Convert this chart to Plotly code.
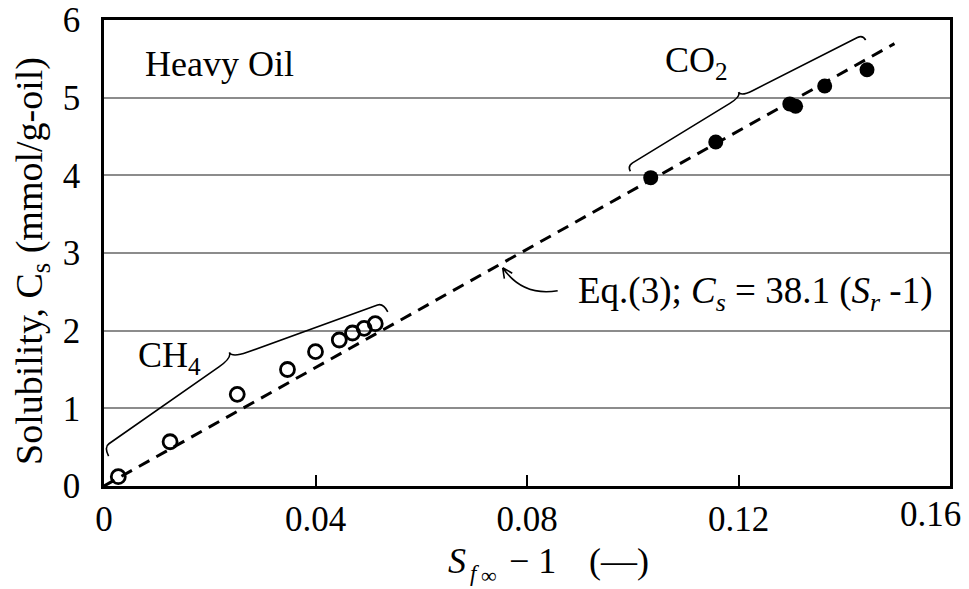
import math
import plotly.graph_objects as go

# ---------------- data ----------------
ch4_x = [0.0027, 0.0125, 0.0252, 0.0347, 0.0400, 0.0445, 0.0470, 0.0492, 0.0513]
ch4_y = [0.12, 0.57, 1.18, 1.50, 1.73, 1.88, 1.97, 2.03, 2.09]
co2_x = [0.1034, 0.1157, 0.1297, 0.1308, 0.1363, 0.1443]
co2_y = [3.97, 4.43, 4.92, 4.89, 5.15, 5.36]
fit_slope = 38.1
fit_x = [0.0, 0.1495]
fit_y = [fit_slope * v for v in fit_x]
x_ticks = [0, 0.04, 0.08, 0.12, 0.16]
x_ticklabels = ["0", "0.04", "0.08", "0.12", "0.16"]
y_ticks = [0, 1, 2, 3, 4, 5, 6]

# ---------------- layout geometry (page pixels) ----------------
PL, PR, PT, PB = 104, 950, 20, 486       # plot area on the page
W, H = 969, 589                          # figure size
ML, MT = PL, PT
MR = W - PR
MB = H - PB
XR = (0, 0.16)
YR = (0, 6)
PW = PR - PL
PH = PB - PT
FONT = "Liberation Serif, Times New Roman, serif"


def to_px(X, Y):
    return (PL + (X - XR[0]) / (XR[1] - XR[0]) * PW,
            PB - (Y - YR[0]) / (YR[1] - YR[0]) * PH)


def to_data(px, py):
    return (XR[0] + (px - PL) / PW * (XR[1] - XR[0]),
            YR[0] + (PB - py) / PH * (YR[1] - YR[0]))


def paper(px, py):
    return (px - PL) / PW, (PB - py) / PH


def pstr(p):
    X, Y = to_data(*p)
    return f"{X:.6f},{Y:.6f}"


def add(a, b, k=1.0):
    return (a[0] + k * b[0], a[1] + k * b[1])


def unit(a, b):
    dx, dy = b[0] - a[0], b[1] - a[1]
    L = math.hypot(dx, dy)
    return (dx / L, dy / L)


def brace_path(e1, e2, tip, a=7, c=8, r=14, t=5):
    E1, E2, T0 = to_px(*e1), to_px(*e2), to_px(*tip)
    u = unit(E1, E2)
    n = (u[1], -u[0])  # points away from the data (up-left)
    T = add(T0, n, -t)  # cusp base
    v1 = unit(E1, T)
    v2 = unit(T, E2)
    d = "M " + pstr(add(E1, n, -a))
    d += " Q " + pstr(E1) + " " + pstr(add(E1, v1, c))
    d += " L " + pstr(add(T, v1, -r))
    d += " Q " + pstr(T) + " " + pstr(T0)
    d += " Q " + pstr(T) + " " + pstr(add(T, v2, r))
    d += " L " + pstr(add(E2, v2, -c))
    d += " Q " + pstr(E2) + " " + pstr(add(E2, n, -a))
    return d


fig = go.Figure()

fig.add_trace(go.Scatter(
    x=fit_x, y=fit_y, mode="lines",
    line=dict(color="black", width=3, dash="12px,8px"),
    hoverinfo="skip", showlegend=False))

fig.add_trace(go.Scatter(
    x=ch4_x, y=ch4_y, mode="markers", name="CH4",
    marker=dict(symbol="circle-open", size=14, color="black", line=dict(width=2.8, color="black")),
    showlegend=False))

fig.add_trace(go.Scatter(
    x=co2_x, y=co2_y, mode="markers", name="CO2",
    marker=dict(symbol="circle", size=15, color="black"),
    showlegend=False))

shapes = []
# braces
shapes.append(dict(type="path", xref="x", yref="y",
                   path=brace_path((0.0, 0.50), (0.0528, 2.356), (0.0237, 1.72), a=10, c=6, r=16, t=6),
                   line=dict(color="black", width=1.6)))
shapes.append(dict(type="path", xref="x", yref="y",
                   path=brace_path((0.0990, 4.12), (0.1435, 5.81), (0.1200, 5.07), a=6, c=6, r=13, t=5),
                   line=dict(color="black", width=1.6)))

# curved arrow toward the fit line
tipd = (0.0754, 2.81)
TIP = to_px(*tipd)
START = (TIP[0] + 55, TIP[1] + 23)
CTRL = (TIP[0] + 20, TIP[1] + 29)
curve = "M " + pstr(START) + " Q " + pstr(CTRL) + " " + pstr(TIP)
back = unit(TIP, CTRL)
head = ""
for ang in (0.45, -0.45):
    ca, sa = math.cos(ang), math.sin(ang)
    dvec = (back[0] * ca - back[1] * sa, back[0] * sa + back[1] * ca)
    head += " M " + pstr(TIP) + " L " + pstr(add(TIP, dvec, 11))
shapes.append(dict(type="path", xref="x", yref="y", path=curve + head,
                   line=dict(color="black", width=1.6)))

fig.update_layout(shapes=shapes)

FS = 36
ann = []


def txt(px, py, text, size=FS, xanchor="left", **kw):
    x, y = paper(px, py)
    ann.append(dict(x=x, y=y, xref="paper", yref="paper", text=text, showarrow=False,
                    xanchor=xanchor, yanchor="middle",
                    font=dict(size=size, family=FONT, color="black"), **kw))


txt(143, 64, "Heavy Oil")
txt(663, 62, "CO<sub>2</sub>")
txt(136, 357, "CH<sub>4</sub>")
txt(576, 293, "Eq.(3); <i>C<sub>s</sub></i> = 38.1 (<i>S<sub>r</sub></i> -1)", size=37)
# x-axis title pieces
txt(446, 561, "<i>S</i>")
txt(468, 573, "<i>f</i>", size=23)
txt(479, 575, "∞", size=22)
txt(507, 561, "− 1")
txt(587, 561, "(—)")
# y-axis title
txt(32, 261, "Solubility, C<sub>s</sub> (mmol/g-oil)", size=38, xanchor="center", textangle=-90)
# last x tick label (kept inside the page, as in the reference)
txt(930, 514, x_ticklabels[-1], size=35, xanchor="center")

fig.update_layout(annotations=ann)

fig.update_layout(
    width=W, height=H,
    margin=dict(l=ML, r=MR, t=MT, b=MB, autoexpand=False),
    paper_bgcolor="white", plot_bgcolor="white",
    xaxis=dict(range=list(XR), tickvals=x_ticks, ticktext=x_ticklabels[:-1] + [""],
               ticks="inside", ticklen=11, tickwidth=1.5, tickcolor="black",
               showgrid=False, zeroline=False, automargin=False,
               showline=True, linecolor="black", linewidth=2.5, mirror=True,
               ticklabelstandoff=0, ticklabeloverflow="allow",
               tickfont=dict(size=35, family=FONT, color="black")),
    yaxis=dict(range=list(YR), tickvals=y_ticks, ticks="",
               showgrid=True, gridcolor="#8c8c8c", gridwidth=1.5, zeroline=False, automargin=False,
               showline=True, linecolor="black", linewidth=2.5, mirror=True,
               ticklabelstandoff=14, ticklabeloverflow="allow",
               tickfont=dict(size=35, family=FONT, color="black")),
)

fig.write_html("out.html", config={"displayModeBar": False},
               post_script="document.body.style.margin='0';")
